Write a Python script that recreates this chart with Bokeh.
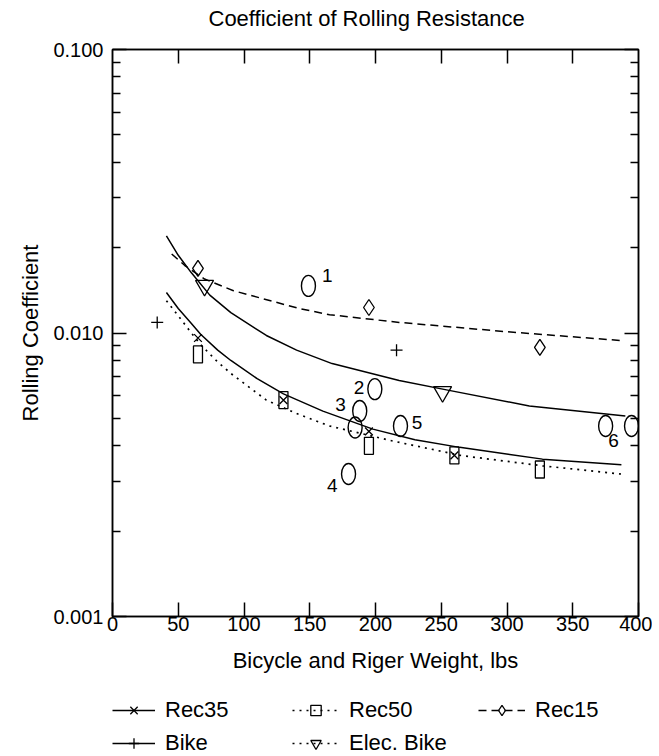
from bokeh.plotting import figure
from bokeh.layouts import column
from bokeh.models import (FixedTicker, PrintfTickFormatter, LinearAxis, LogAxis,
                          Range1d, Legend, LegendItem, CustomJSTickFormatter, Label)
from bokeh.core.properties import value
from bokeh.embed import file_html
from bokeh.resources import INLINE

FONT = "Liberation Sans"

rec35_x = [65, 130, 195, 260]
rec35_y = [0.0096, 0.0058, 0.0045, 0.0037]
rec50_x = [65, 130, 195, 260, 325]
rec50_y = [0.0084, 0.0058, 0.0040, 0.0037, 0.0033]
rec15_x = [65, 195, 325]
rec15_y = [0.0169, 0.0123, 0.0089]
bike_x = [34, 216]
bike_y = [0.0109, 0.0087]
ebike_x = [70, 251]
ebike_y = [0.0147, 0.0062]

# fitted curves
fit35_x = [41, 50, 60, 67, 80, 90, 110, 130, 160, 198, 230, 264, 327, 387]
fit35_y = [0.0139, 0.0122, 0.0108, 0.0099, 0.0087, 0.0080, 0.0069, 0.0061, 0.0053,
           0.00458, 0.0042, 0.00395, 0.00359, 0.00343]
fit50_x = [41, 50, 60, 67, 80, 90, 117, 140, 165, 213, 266, 327, 387]
fit50_y = [0.0130, 0.0115, 0.0100, 0.0091, 0.0079, 0.0072, 0.0058, 0.0052, 0.0047,
           0.00416, 0.00369, 0.0034, 0.00318]
fit15_x = [45, 55, 70, 92, 142, 165, 218, 300, 387]
fit15_y = [0.0190, 0.0173, 0.0155, 0.0141, 0.0122, 0.0116, 0.0109, 0.0101, 0.0094]
fitb_x = [41, 50, 60, 74, 90, 117, 140, 167, 218, 254, 317, 390]
fitb_y = [0.0220, 0.0188, 0.0163, 0.0136, 0.0118, 0.0098, 0.0087, 0.0078, 0.0068,
          0.0063, 0.00553, 0.0051]

# numbered test points
o_x = [149, 199.5, 188, 184.5, 179.5, 219, 375, 394.7]
o_y = [0.01466, 0.00634, 0.00531, 0.00464, 0.00318, 0.0047, 0.0047, 0.0047]
lab_t = ["1", "2", "3", "4", "5", "6"]
lab_x = [163.4, 187.4, 173.4, 167.1, 231.5, 381]
lab_y = [0.0159, 0.00642, 0.00561, 0.00289, 0.00483, 0.00416]

x_ticks = [0, 50, 100, 150, 200, 250, 300, 350, 400]
y_ticks = [0.001, 0.01, 0.1]
y_minor = [m * d for d in (0.001, 0.01) for m in range(2, 10)]

W = 652
K = "black"

def blank_strip(h, **kw):
    f = figure(width=W, height=h, output_backend="svg", toolbar_location=None,
               min_border=0, title=None, **kw)
    f.axis.visible = False
    f.grid.visible = False
    f.outline_line_color = None
    f.background_fill_color = "white"
    f.border_fill_color = "white"
    return f

# ---- title strip ----
TH = 40
t = blank_strip(TH, x_range=Range1d(0, 1), y_range=Range1d(0, 1))
t.add_layout(Label(x=96, y=22, x_units="screen", y_units="screen",
                   text="Coefficient of Rolling Resistance", text_font=FONT,
                   text_font_size="22px", text_color=K, text_baseline="alphabetic"))

# ---- main plot ----
p = figure(width=W, height=640, output_backend="svg", toolbar_location=None, title=None,
           y_axis_type="log", x_range=Range1d(0, 400), y_range=Range1d(0.001, 0.1),
           min_border_left=112, min_border_right=14, min_border_top=9, min_border_bottom=64)
p.background_fill_color = "white"
p.border_fill_color = "white"
p.outline_line_color = "black"
p.outline_line_width = 1.5
p.grid.visible = False

def style_axis(ax, labels=True):
    ax.axis_line_color = "black"
    ax.axis_line_width = 1.5
    ax.major_tick_in = 14
    ax.major_tick_out = 0
    ax.minor_tick_in = 8
    ax.minor_tick_out = 0
    ax.major_tick_line_width = 1.5
    ax.minor_tick_line_width = 1.5
    ax.major_label_text_font = FONT
    ax.major_label_text_color = "black"
    ax.axis_label_text_font = FONT
    ax.axis_label_text_font_style = "normal"
    ax.axis_label_text_color = "black"
    if not labels:
        ax.formatter = CustomJSTickFormatter(code="return ''")
        ax.major_label_standoff = 0

xax = p.xaxis[0]
xax.ticker = FixedTicker(ticks=x_ticks)
style_axis(xax)
xax.major_label_text_font_size = "20px"
xax.major_label_standoff = 0
xax.axis_label = "Bicycle and Riger Weight, lbs"
xax.axis_label_text_font_size = "22px"
xax.axis_label_standoff = 14

yax = p.yaxis[0]
yax.ticker = FixedTicker(ticks=y_ticks, minor_ticks=y_minor)
yax.formatter = PrintfTickFormatter(format="%.3f")
style_axis(yax)
yax.major_label_text_font_size = "20px"
yax.major_label_standoff = 9
yax.axis_label = "Rolling Coefficient"
yax.axis_label_text_font_size = "22px"
yax.axis_label_standoff = 7

top = LinearAxis(ticker=FixedTicker(ticks=x_ticks[1:-1]))
style_axis(top, labels=False)
p.add_layout(top, "above")
right = LogAxis(ticker=FixedTicker(ticks=y_ticks, minor_ticks=y_minor))
style_axis(right, labels=False)
p.add_layout(right, "right")

LW = 1.5
SOLID = dict(line_color=K, line_width=LW)
DOT = dict(line_color=K, line_width=1.7, line_dash="2 5")
DASH = dict(line_color=K, line_width=LW, line_dash="8 5")
M_X = dict(marker="x", size=11, line_color=K, line_width=1.3)
M_D = dict(marker="diamond", size=16, fill_color=None, line_color=K, line_width=1.3)
M_C = dict(marker="cross", size=12, line_color=K, line_width=1.3)
M_T = dict(marker="inverted_triangle", size=18, fill_color=None, line_color=K, line_width=1.3)

p.line(fit35_x, fit35_y, **SOLID)
p.scatter(rec35_x, rec35_y, **M_X)
p.line(fit50_x, fit50_y, **DOT)
p.rect(rec50_x, rec50_y, width=9, height=17, width_units="screen", height_units="screen",
       fill_color=None, line_color=K, line_width=1.3)
p.line(fit15_x, fit15_y, **DASH)
p.scatter(rec15_x, rec15_y, **M_D)
p.line(fitb_x, fitb_y, **SOLID)
p.scatter(bike_x, bike_y, **M_C)
p.scatter(ebike_x, ebike_y, **M_T)

p.ellipse(o_x, o_y, width=14, height=21, width_units="screen", height_units="screen",
          fill_color=None, line_color=K, line_width=1.4)
p.text(lab_x, lab_y, text=lab_t, text_font=value(FONT), text_font_size="19px",
       text_align="center", text_baseline="middle", text_color=K)

# ---- legend strip: same series drawn again, outside its visible range ----
LH = 76
q = blank_strip(LH, x_range=Range1d(0, 400), y_range=Range1d(10, 20))

l35 = q.line(fit35_x, fit35_y, **SOLID)
m35 = q.scatter(rec35_x, rec35_y, **M_X)
l50 = q.line(fit50_x, fit50_y, **DOT)
m50 = q.scatter(rec50_x, rec50_y, marker="square", size=13, fill_color=None, line_color=K, line_width=1.3)
l15 = q.line(fit15_x, fit15_y, **DASH)
m15 = q.scatter(rec15_x, rec15_y, **M_D)
lb = q.line(fitb_x, fitb_y, **SOLID)
mb = q.scatter(bike_x, bike_y, **M_C)
le = q.line(fitb_x, fitb_y, **DOT)
me = q.scatter(ebike_x, ebike_y, **M_T)

def make_legend(items, loc, gw=47):
    lg = Legend(items=items, location=loc, orientation="vertical")
    lg.label_text_font = FONT
    lg.label_text_font_size = "22px"
    lg.label_text_color = "black"
    lg.glyph_width = gw
    lg.glyph_height = 26
    lg.label_height = 26
    lg.label_standoff = 10
    lg.spacing = 7
    lg.padding = 0
    lg.margin = 0
    lg.border_line_color = None
    lg.background_fill_alpha = 0
    lg.click_policy = "none"
    q.add_layout(lg, "center")

# strip frame starts at the main frame's left edge (x = 112 px on the page)
make_legend([LegendItem(label="Rec35", renderers=[l35, m35]),
             LegendItem(label="Bike", renderers=[lb, mb])], (0, 0), gw=43)
make_legend([LegendItem(label="Rec50", renderers=[l50, m50]),
             LegendItem(label="Elec. Bike", renderers=[le, me])], (180, 0))
make_legend([LegendItem(label="Rec15", renderers=[l15, m15])], (366, 33))

layout = column(t, p, q, spacing=0)
open("out.html", "w").write(file_html(layout, INLINE))
